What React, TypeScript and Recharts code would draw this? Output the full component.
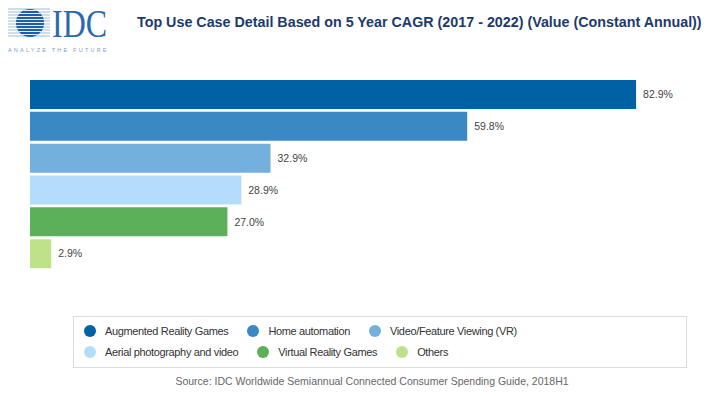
import { BarChart, Bar, XAxis, YAxis, Cell, LabelList } from 'recharts'

const categories = [
  'Augmented Reality Games',
  'Home automation',
  'Video/Feature Viewing (VR)',
  'Aerial photography and video',
  'Virtual Reality Games',
  'Others',
]
const cagr = [82.9, 59.8, 32.9, 28.9, 27.0, 2.9]
const colors = ['#0062A3', '#3A88C4', '#74B0DE', '#B3DDFB', '#5DB05A', '#BDE28A']

const data = categories.map((name, i) => ({ name, value: cagr[i] }))

const font = '"Liberation Sans", Arial, sans-serif'

function Logo() {
  const stripes = [9, 12, 15, 18, 21, 24, 27, 30, 33, 36]
  return (
    <svg width={120} height={60} style={{ position: 'absolute', left: 0, top: 0 }}>
      <defs>
        <clipPath id="globe">
          <circle cx={30} cy={23} r={14} />
        </clipPath>
      </defs>
      {stripes.map((y) => (
        <line key={y} x1={5} x2={50} y1={y} y2={y} stroke="#9fbde0" strokeWidth={1.2} />
      ))}
      <circle cx={30} cy={23} r={14} fill="#1d5ea8" />
      <g clipPath="url(#globe)">
        {stripes.map((y) => (
          <line key={y} x1={10} x2={50} y1={y + 1.5} y2={y + 1.5} stroke="#ffffff" strokeWidth={0.9} />
        ))}
      </g>
      <text x={52} y={37} fontFamily='"Liberation Serif", "Times New Roman", serif' fontSize={40}
        fill="#2a68b0" textLength={55} lengthAdjust="spacingAndGlyphs">IDC</text>
      <text x={8} y={52} fontFamily={font} fontSize={5.5} fill="#7f9cc0" letterSpacing={1.5}
        textLength={100} lengthAdjust="spacing">ANALYZE THE FUTURE</text>
    </svg>
  )
}

export default function App() {
  return (
    <div style={{ position: 'relative', width: 710, height: 396, margin: -8, background: '#fff', fontFamily: font }}>
      <Logo />
      <div style={{ position: 'absolute', left: 137, top: 14, fontSize: 14.3, fontWeight: 'bold', color: '#1c3a6c', whiteSpace: 'nowrap' }}>
        Top Use Case Detail Based on 5 Year CAGR (2017 - 2022) (Value (Constant Annual))
      </div>
      <div style={{ position: 'absolute', left: 0, top: 0 }}>
        <BarChart width={710} height={290} data={data} layout="vertical"
          margin={{ top: 78.5, right: 22, left: 30, bottom: 20.5 }} barCategoryGap={1.5}>
          <XAxis type="number" domain={[0, 90]} hide />
          <YAxis type="category" dataKey="name" hide />
          <Bar dataKey="value" isAnimationActive={false}>
            {data.map((d, i) => (
              <Cell key={d.name} fill={colors[i]} />
            ))}
            <LabelList dataKey="value" position="right" offset={7} fill="#444" fontSize={10.5}
              fontFamily={font} formatter={(v: number) => `${v.toFixed(1)}%`} />
          </Bar>
        </BarChart>
      </div>
      <div style={{ position: 'absolute', left: 73, top: 316, width: 602, height: 47, border: '1px solid #dcdcdc',
        display: 'flex', flexWrap: 'wrap', alignContent: 'flex-start', padding: '3px 0 0 10px', boxSizing: 'content-box' }}>
        {categories.map((c, i) => (
          <div key={c} style={{ display: 'flex', alignItems: 'center', height: 21, marginRight: 19 }}>
            <span style={{ width: 12, height: 12, borderRadius: 6, background: colors[i], display: 'inline-block', marginRight: 9 }} />
            <span style={{ fontSize: 11, letterSpacing: -0.35, color: '#333' }}>{c}</span>
          </div>
        ))}
      </div>
      <div style={{ position: 'absolute', left: 0, width: 744, top: 375, textAlign: 'center', fontSize: 10.5, color: '#666' }}>
        Source: IDC Worldwide Semiannual Connected Consumer Spending Guide, 2018H1
      </div>
    </div>
  )
}
